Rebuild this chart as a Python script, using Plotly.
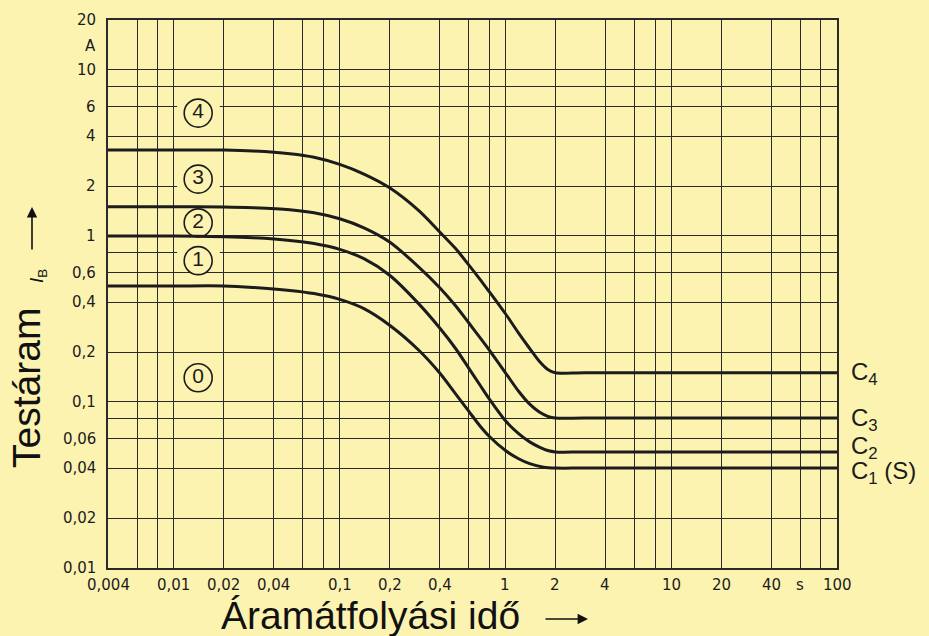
import math
import plotly.graph_objects as go

# ---------------- data ----------------
# time (s) and body current (A)
c1_t = [0.004, 0.01, 0.02, 0.03, 0.05, 0.07, 0.1, 0.14, 0.2, 0.3, 0.4, 0.5, 0.6, 0.7, 0.8, 1.0, 1.2, 1.4, 1.7, 2.0, 3.0, 100]
c1_i = [0.5, 0.5, 0.5, 0.49, 0.47, 0.45, 0.415, 0.365, 0.29, 0.205, 0.15, 0.112, 0.088, 0.072, 0.062, 0.051, 0.0455, 0.0425, 0.0405, 0.04, 0.04, 0.04]

c2_t = [0.004, 0.01, 0.02, 0.03, 0.05, 0.07, 0.1, 0.14, 0.2, 0.3, 0.4, 0.5, 0.6, 0.7, 0.8, 1.0, 1.2, 1.4, 1.6, 1.8, 2.0, 3.0, 100]
c2_i = [1.0, 1.0, 0.99, 0.975, 0.94, 0.9, 0.83, 0.73, 0.58, 0.39, 0.28, 0.21, 0.16, 0.127, 0.104, 0.077, 0.0645, 0.0575, 0.0535, 0.051, 0.05, 0.05, 0.05]

c3_t = [0.004, 0.01, 0.02, 0.03, 0.05, 0.07, 0.1, 0.14, 0.2, 0.3, 0.4, 0.5, 0.6, 0.7, 0.8, 1.0, 1.2, 1.4, 1.6, 1.8, 2.0, 3.0, 100]
c3_i = [1.5, 1.5, 1.495, 1.48, 1.44, 1.38, 1.27, 1.12, 0.92, 0.65, 0.49, 0.38, 0.3, 0.245, 0.205, 0.15, 0.116, 0.097, 0.087, 0.082, 0.08, 0.08, 0.08]

c4_t = [0.004, 0.01, 0.02, 0.03, 0.05, 0.07, 0.1, 0.14, 0.2, 0.3, 0.4, 0.5, 0.6, 0.7, 0.8, 0.9, 1.0, 1.2, 1.4, 1.6, 1.8, 2.0, 3.0, 100]
c4_i = [3.3, 3.3, 3.29, 3.25, 3.13, 2.98, 2.7, 2.36, 1.95, 1.42, 1.06, 0.84, 0.67, 0.55, 0.46, 0.393, 0.34, 0.26, 0.21, 0.176, 0.157, 0.15, 0.15, 0.15]

curve_names = ["C<sub>1</sub> (S)", "C<sub>2</sub>", "C<sub>3</sub>", "C<sub>4</sub>"]

# axis grid / tick labels
x_grid = [0.004, 0.006, 0.008, 0.01, 0.02, 0.04, 0.06, 0.08, 0.1, 0.2, 0.4, 0.6, 0.8,
          1, 2, 4, 6, 8, 10, 20, 40, 60, 80, 100]
x_tick_vals = [0.004, 0.01, 0.02, 0.04, 0.1, 0.2, 0.4, 1, 2, 4, 10, 20, 40, 60, 100]
x_tick_text = ["0,004", "0,01", "0,02", "0,04", "0,1", "0,2", "0,4", "1", "2", "4",
               "10", "20", "40", "s", "100"]

y_grid = [0.01, 0.02, 0.04, 0.06, 0.08, 0.1, 0.2, 0.4, 0.6, 0.8, 1, 2, 4, 6, 8, 10, 20]
y_tick_vals = [0.01, 0.02, 0.04, 0.06, 0.1, 0.2, 0.4, 0.6, 1, 2, 4, 6, 10, 14, 20]
y_tick_text = ["0,01", "0,02", "0,04", "0,06", "0,1", "0,2", "0,4", "0,6", "1", "2", "4",
               "6", "10", "A", "20"]

# circled zone labels
zone_text = ["4", "3", "2", "1", "0"]
zone_i = [5.5, 2.2, 1.2, 0.71, 0.14]
zone_t = 0.014
gap_levels = [6, 2, 0.8]

BG = "#fcf3b1"
INK = "#1c1c1c"
GRID = "#2a2a2a"

fig = go.Figure()

# erase gridline pieces behind the circled labels
gx, gy = [], []
for lv in gap_levels:
    gx += [0.01 * 1.045, 0.02 * 0.945, None]
    gy += [lv, lv, None]
fig.add_trace(go.Scatter(x=gx, y=gy, mode="lines", line=dict(color=BG, width=5),
                         hoverinfo="skip", showlegend=False))

# zone circles
fig.add_trace(go.Scatter(
    x=[zone_t] * len(zone_i), y=zone_i, mode="markers+text", text=zone_text,
    textposition="middle center",
    textfont=dict(family="Liberation Sans, Arial, sans-serif", size=21, color=INK),
    marker=dict(symbol="circle", size=28, color=BG, line=dict(color=INK, width=1.6)),
    hoverinfo="skip", showlegend=False))

# curves
for t, i in [(c1_t, c1_i), (c2_t, c2_i), (c3_t, c3_i), (c4_t, c4_i)]:
    fig.add_trace(go.Scatter(x=t, y=i, mode="lines",
                             line=dict(color=INK, width=3, shape="spline", smoothing=0.8),
                             hoverinfo="skip", showlegend=False))

ann = []
tick_font = dict(family="DejaVu Sans, sans-serif", size=15, color=INK)
for v, s in zip(x_tick_vals, x_tick_text):
    ann.append(dict(x=math.log10(v), xref="x", y=0, yref="paper", yshift=-17,
                    text=s, showarrow=False, xanchor="center", yanchor="middle",
                    font=tick_font))
for v, s in zip(y_tick_vals, y_tick_text):
    ann.append(dict(x=0, xref="paper", xshift=-10, y=math.log10(v), yref="y",
                    text=s, showarrow=False, xanchor="right", yanchor="middle",
                    font=tick_font))

# curve end labels
end_vals = [c1_i[-1], c2_i[-1], c3_i[-1], c4_i[-1]]
end_shift = [-4, 4, -1, -1]
for name, v, sh in zip(curve_names, end_vals, end_shift):
    ann.append(dict(x=1, xref="paper", xshift=12, y=math.log10(v), yref="y", yshift=sh,
                    text=name, showarrow=False, xanchor="left", yanchor="middle",
                    font=dict(family="Liberation Sans, Arial, sans-serif", size=24, color=INK)))

title_font = dict(family="Liberation Sans, Arial, sans-serif", size=39, color="#111111")
# x title
ann.append(dict(x=(219 - 108) / 729, xref="paper", y=(568 - 616) / 548, yref="paper",
                text="Áramátfolyási idő", showarrow=False, xanchor="left", yanchor="middle",
                font=title_font))
ann.append(dict(x=(588 - 108) / 729, xref="paper", y=(568 - 619) / 548, yref="paper",
                text="", showarrow=True, ax=-44, ay=0, arrowhead=2, arrowsize=1.3,
                arrowwidth=1.6, arrowcolor="#111111"))
# y title
ann.append(dict(x=(26 - 108) / 729, xref="paper", y=(568 - 388) / 548, yref="paper",
                text="Testáram", textangle=-90, showarrow=False, xanchor="center",
                yanchor="middle", font=title_font))
ann.append(dict(x=(38 - 108) / 729, xref="paper", y=(568 - 276) / 548, yref="paper",
                text="<i>I</i><sub>B</sub>", textangle=-90, showarrow=False,
                xanchor="center", yanchor="middle",
                font=dict(family="Liberation Sans, Arial, sans-serif", size=19, color="#111111")))
ann.append(dict(x=(32 - 108) / 729, xref="paper", y=(568 - 207) / 548, yref="paper",
                text="", showarrow=True, ax=0, ay=44, arrowhead=2, arrowsize=1.3,
                arrowwidth=1.6, arrowcolor="#111111"))

axis_common = dict(type="log", showgrid=True, gridcolor=GRID, gridwidth=1.3,
                   showline=True, linecolor=GRID, linewidth=1.5, mirror=True,
                   zeroline=False, showticklabels=False, ticks="", tickmode="array")

fig.update_layout(
    width=929, height=636, autosize=False,
    margin=dict(l=108, r=92, t=20, b=68),
    paper_bgcolor=BG, plot_bgcolor=BG,
    xaxis=dict(range=[math.log10(0.004), math.log10(100)], tickvals=x_grid, **axis_common),
    yaxis=dict(range=[math.log10(0.01), math.log10(20)], tickvals=y_grid, **axis_common),
    annotations=ann,
    showlegend=False,
)

page_style = ("document.body.style.margin='0px';"
              "document.body.style.padding='0px';"
              "document.body.style.background='" + BG + "';")
fig.write_html("out.html", post_script=page_style, config={"displayModeBar": False})
